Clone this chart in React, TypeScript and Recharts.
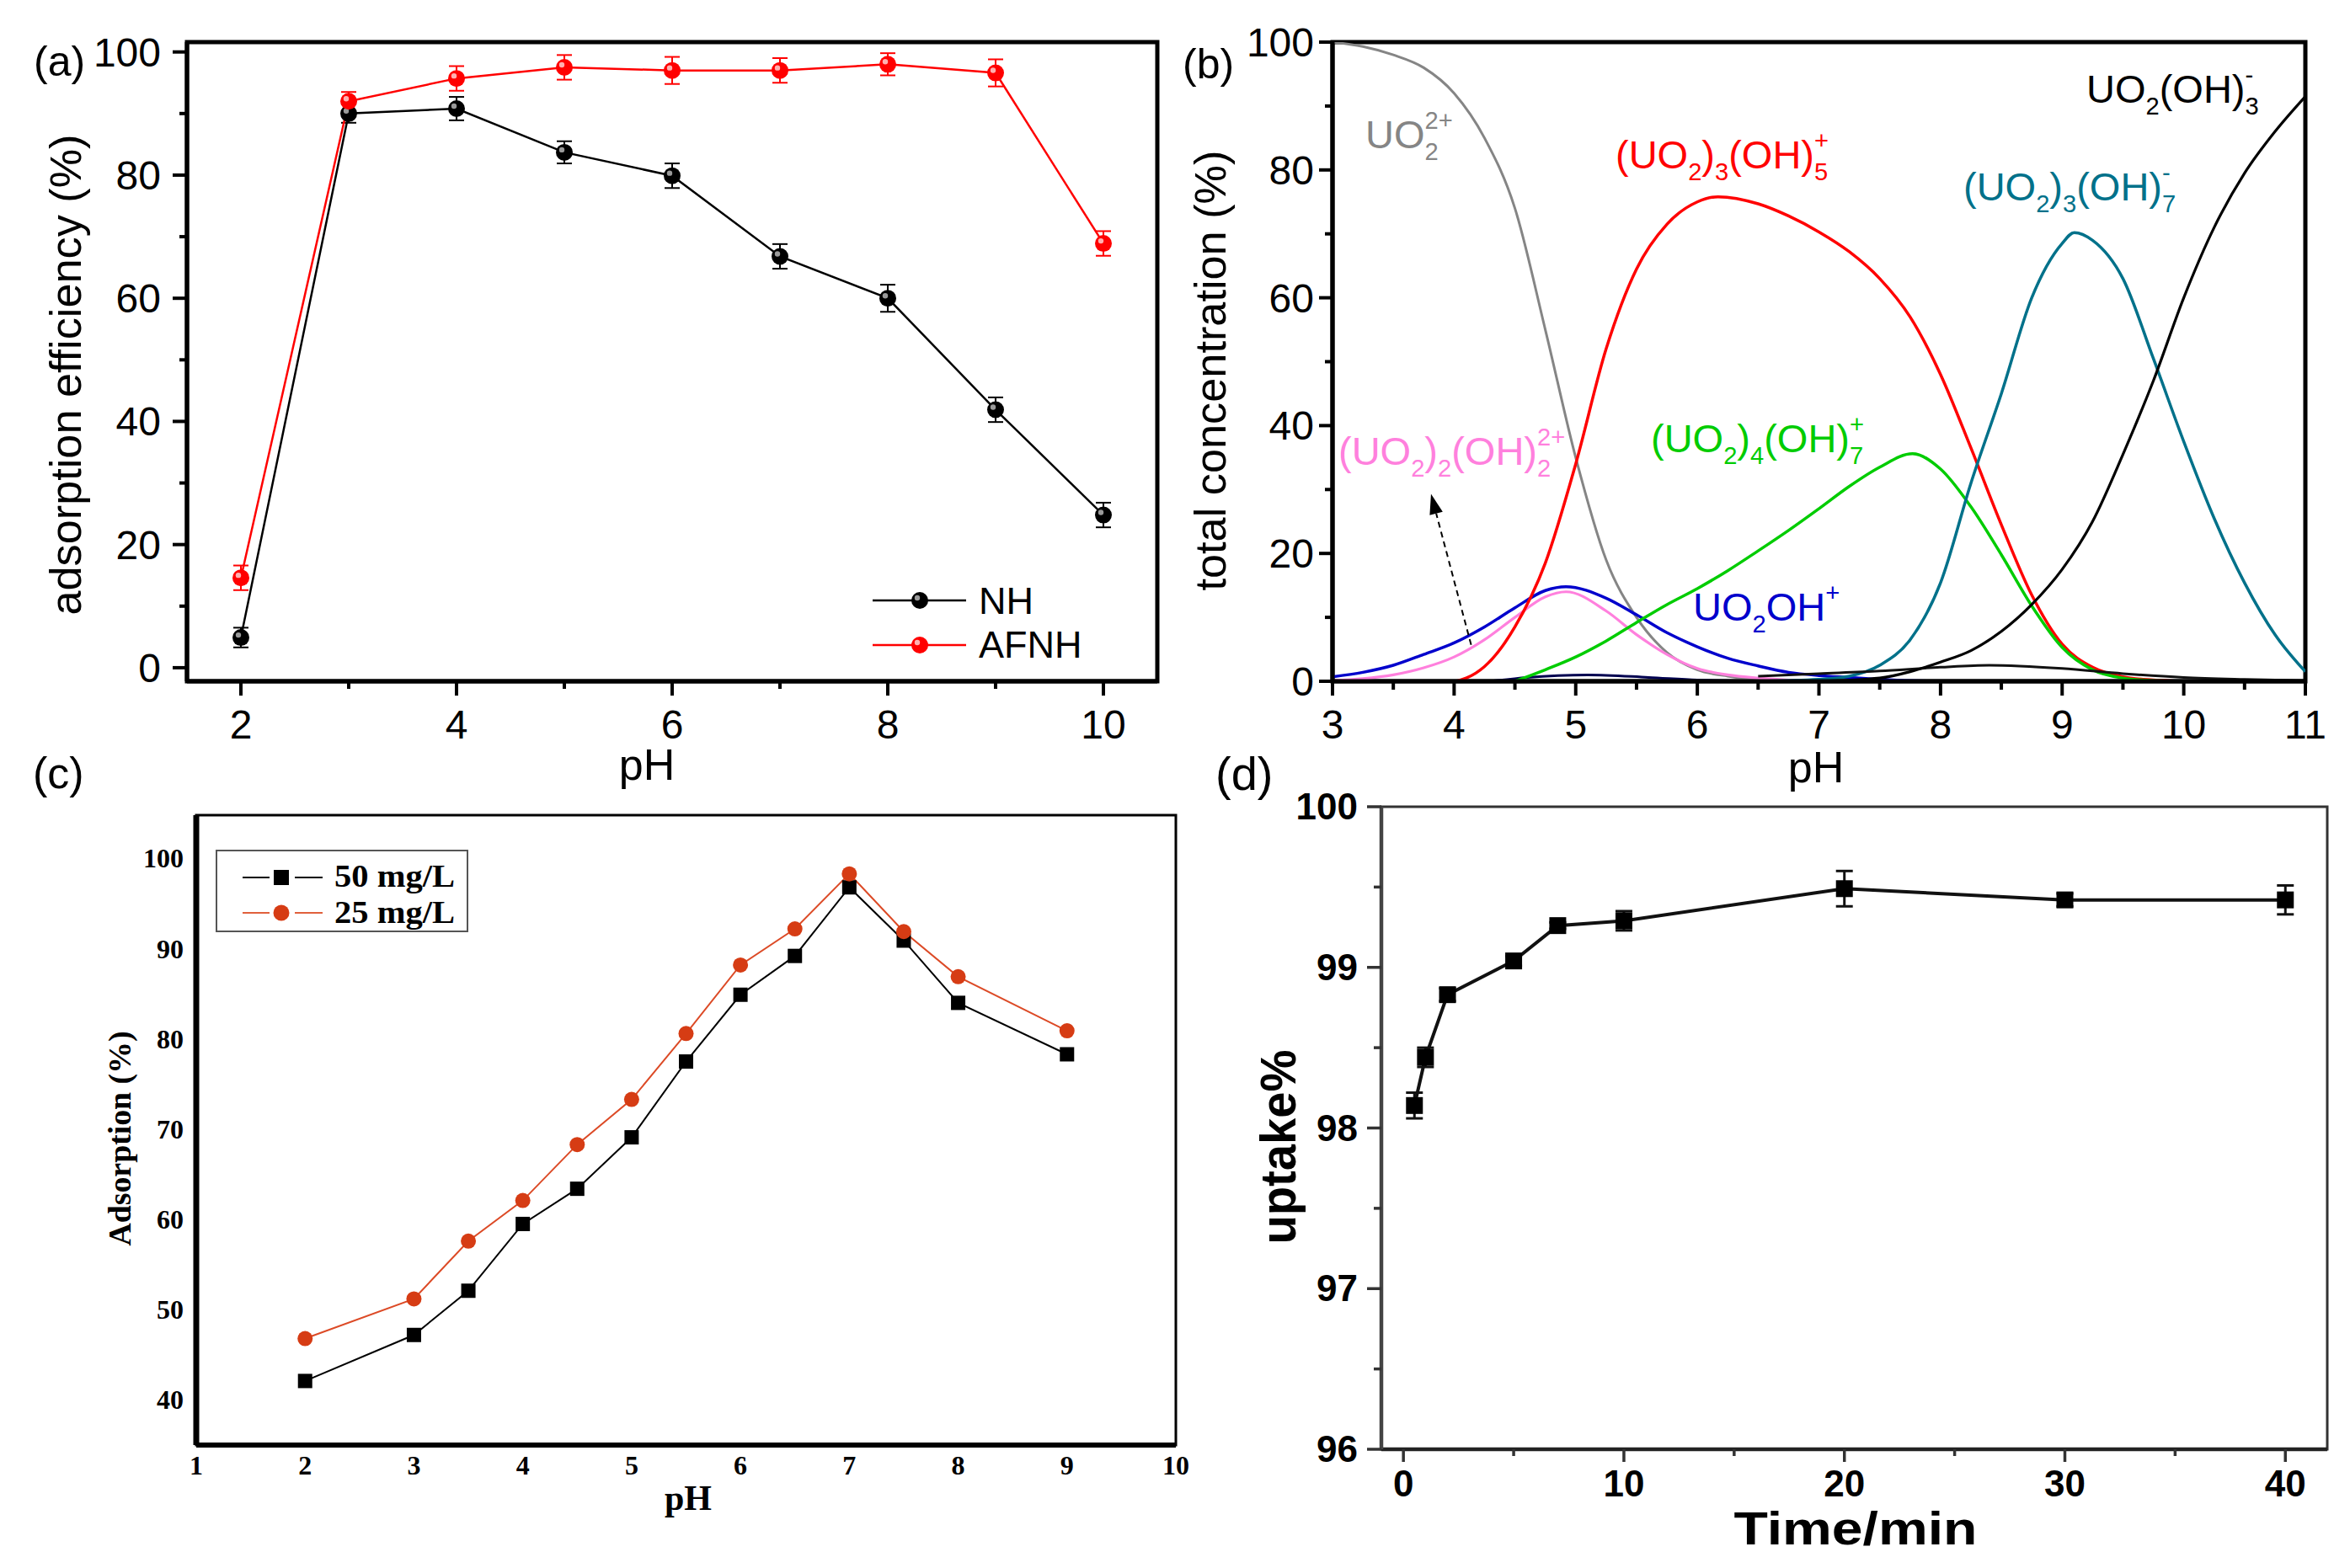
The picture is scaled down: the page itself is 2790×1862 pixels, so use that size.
import React from "react";
import { LineChart, Line, XAxis, YAxis, ErrorBar, ReferenceArea, ReferenceLine } from "recharts";

// page size and fonts
const W = 2790;
const H = 1862;
const SANS = "'Liberation Sans', Arial, Helvetica, sans-serif";
const SERIF = "'Liberation Serif', 'Times New Roman', serif";

// ---------------------------------------------------------------------------
// (a) adsorption efficiency vs pH
// ---------------------------------------------------------------------------
const PH_A = [2, 3, 4, 5, 6, 7, 8, 9, 10];
const NH = [4.9, 90, 90.8, 83.7, 79.9, 66.8, 60, 41.9, 24.8];
const NH_ERR = [1.6, 1.5, 1.9, 1.8, 2, 2, 2.2, 2, 2];
const AFNH = [14.6, 92, 95.7, 97.5, 97, 97, 98, 96.6, 68.9];
const AFNH_ERR = [2, 1.5, 2, 2, 2.2, 2, 1.8, 2.2, 2];

// ---------------------------------------------------------------------------
// (b) uranyl speciation, [pH, %] pairs
// ---------------------------------------------------------------------------
const UO2: [number, number][] = [
  [3, 100], [3.25, 99.3], [3.5, 98], [3.75, 96], [4, 92], [4.25, 85], [4.5, 74],
  [4.75, 55], [5, 35], [5.25, 19], [5.5, 10], [5.75, 4.5], [6, 1.8], [6.25, 0.8],
  [6.5, 0.3], [7, 0],
];
const UO2_2_OH_2: [number, number][] = [
  [3, 0.1], [3.25, 0.4], [3.5, 1], [3.75, 2.1], [4, 3.8], [4.25, 6.5], [4.5, 10],
  [4.75, 13.2], [4.92, 14], [5.25, 11], [5.5, 7.3], [5.75, 4.2], [6, 2], [6.25, 1],
  [6.5, 0.5], [6.75, 0.2], [7, 0.1], [7.5, 0],
];
const UO2OH: [number, number][] = [
  [3, 0.7], [3.25, 1.4], [3.5, 2.5], [3.75, 4.2], [4, 6], [4.25, 8.5], [4.5, 11.5],
  [4.75, 14.2], [4.92, 14.8], [5.25, 13], [5.5, 10.4], [5.75, 7.6], [6, 5.4],
  [6.25, 3.6], [6.5, 2.4], [6.75, 1.4], [7, 0.9], [7.25, 0.6], [7.5, 0.3], [8, 0],
  [11, 0],
];
const UO2_3_OH_5: [number, number][] = [
  [3, 0], [4, 0], [4.1, 0.5], [4.25, 2.3], [4.5, 8.5], [4.75, 18.5], [5, 34],
  [5.25, 52], [5.5, 64.5], [5.75, 71.5], [6, 75], [6.17, 75.8], [6.5, 74.7],
  [6.75, 72.8], [7, 70.3], [7.25, 67.2], [7.5, 63], [7.75, 57], [8, 48],
  [8.25, 36.5], [8.5, 24.5], [8.75, 13.5], [9, 5.8], [9.25, 2.2], [9.5, 0.7],
  [9.75, 0.2], [10, 0],
];
const UO2_4_OH_7: [number, number][] = [
  [4.5, 0], [4.75, 1.8], [5, 3.8], [5.25, 6.3], [5.5, 9.2], [5.75, 12], [6, 14.5],
  [6.25, 17.3], [6.5, 20.4], [6.75, 23.6], [7, 27], [7.25, 30.5], [7.5, 33.5],
  [7.77, 35.6], [8, 33.2], [8.25, 27.3], [8.5, 19.8], [8.75, 11.8], [9, 5.3],
  [9.25, 1.8], [9.5, 0.5], [9.75, 0.1], [10, 0],
];
const UO2_3_OH_7: [number, number][] = [
  [6.5, 0], [7, 0.3], [7.25, 0.8], [7.5, 2.5], [7.75, 6.5], [8, 15.4], [8.25, 31],
  [8.5, 45], [8.75, 60], [9, 68.5], [9.1, 70.2], [9.25, 69], [9.5, 63], [9.75, 50.5],
  [10, 37.5], [10.25, 25.5], [10.5, 15.4], [10.75, 7.3], [11, 1.5],
];
const UO2_OH_3: [number, number][] = [
  [7, 0], [7.5, 0.5], [7.75, 1.5], [8, 3], [8.25, 4.8], [8.5, 7.8], [8.75, 12],
  [9, 17.5], [9.25, 25], [9.5, 35.5], [9.75, 47], [10, 60], [10.25, 71],
  [10.5, 79.5], [10.75, 86], [11, 91.5],
];
const MINOR_HIGH: [number, number][] = [
  [6.5, 0.8], [7, 1.2], [7.5, 1.6], [8, 2.2], [8.4, 2.5], [9, 2], [9.5, 1.2],
  [10, 0.6], [10.5, 0.3], [11, 0.1],
];
const MINOR_LOW: [number, number][] = [
  [4.3, 0], [4.6, 0.6], [5.1, 1], [5.6, 0.6], [6, 0.2], [6.5, 0],
];

// ---------------------------------------------------------------------------
// (c) adsorption vs pH, two concentrations
// ---------------------------------------------------------------------------
const PH_C = [2, 3, 3.5, 4, 4.5, 5, 5.5, 6, 6.5, 7, 7.5, 8, 9];
const C50 = [42.1, 47.2, 52.1, 59.5, 63.4, 69.1, 77.5, 84.9, 89.2, 96.8, 90.9, 84.0, 78.3];
const C25 = [46.8, 51.2, 57.6, 62.1, 68.3, 73.3, 80.6, 88.2, 92.2, 98.3, 91.9, 86.9, 80.9];

// ---------------------------------------------------------------------------
// (d) uptake vs time
// ---------------------------------------------------------------------------
const TIME_D = [0.5, 1, 2, 5, 7, 10, 20, 30, 40];
const UPTAKE = [98.14, 98.44, 98.83, 99.04, 99.26, 99.29, 99.49, 99.42, 99.42];
const UPTAKE_ERR = [0.08, 0.06, 0.04, 0.03, 0.02, 0.06, 0.11, 0.04, 0.09];

// tables for the charts
const DATA_A = PH_A.map((ph, i) => ({ ph, nh: NH[i], nhErr: NH_ERR[i], afnh: AFNH[i], afnhErr: AFNH_ERR[i] }));
const DATA_C = PH_C.map((ph, i) => ({ ph, c50: C50[i], c25: C25[i] }));
const DATA_D = TIME_D.map((t, i) => ({ t, up: UPTAKE[i], err: UPTAKE_ERR[i] }));
const toXY = (pts: [number, number][]) => pts.map(([x, v]) => ({ x, v }));

// ---------------------------------------------------------------------------
// ticks: tickSize/tickMargin are 0, so x/y given here sit on the axis line
// ---------------------------------------------------------------------------
type TickCfg = {
  side: "bottom" | "left";
  isMajor: (v: number) => boolean;
  len: number;
  minorLen: number;
  stroke: string;
  sw: number;
  off: number; // bottom: label baseline below axis; left: gap to label end
  dy?: number; // left: baseline shift against tick
  font: string;
  size: number;
  weight?: number | string;
};

function makeTick(c: TickCfg) {
  return (p: any) => {
    const { x, y, payload } = p;
    const v = payload.value as number;
    const major = c.isMajor(v);
    const l = major ? c.len : c.minorLen;
    if (c.side === "bottom") {
      return (
        <g>
          {l > 0 && <line x1={x} x2={x} y1={y} y2={y + l} stroke={c.stroke} strokeWidth={c.sw} />}
          {major && (
            <text x={x} y={y + c.off} textAnchor="middle" fontFamily={c.font} fontSize={c.size}
              fontWeight={c.weight ?? "normal"} fill="#000">{v}</text>
          )}
        </g>
      );
    }
    return (
      <g>
        {l > 0 && <line x1={x - l} x2={x} y1={y} y2={y} stroke={c.stroke} strokeWidth={c.sw} />}
        {major && (
          <text x={x - c.off} y={y + (c.dy ?? 0)} textAnchor="end" fontFamily={c.font} fontSize={c.size}
            fontWeight={c.weight ?? "normal"} fill="#000">{v}</text>
        )}
      </g>
    );
  };
}

const range = (a: number, b: number, s: number) => {
  const out: number[] = [];
  for (let v = a; v <= b + 1e-9; v += s) out.push(Math.round(v * 100) / 100);
  return out;
};

// ---------------------------------------------------------------------------
// markers
// ---------------------------------------------------------------------------
const ballDot = (fill: string, hi: string, r: number) => (p: any) => {
  if (p.cx == null || p.cy == null) return <g key={`b${p.index}`} />;
  return (
    <g key={`b${p.index}`}>
      <circle cx={p.cx} cy={p.cy} r={r} fill={fill} />
      <circle cx={p.cx - r * 0.3} cy={p.cy - r * 0.3} r={r * 0.32} fill={hi} />
    </g>
  );
};
const squareDot = (fill: string, s: number) => (p: any) => {
  if (p.cx == null || p.cy == null) return <g key={`s${p.index}`} />;
  return <rect key={`s${p.index}`} x={p.cx - s / 2} y={p.cy - s / 2} width={s} height={s} fill={fill} />;
};
const roundDot = (fill: string, r: number) => (p: any) => {
  if (p.cx == null || p.cy == null) return <g key={`r${p.index}`} />;
  return <circle key={`r${p.index}`} cx={p.cx} cy={p.cy} r={r} fill={fill} />;
};

function ArrowShape(p: any) {
  const { x1, y1, x2, y2 } = p;
  if ([x1, y1, x2, y2].some((v) => typeof v !== "number" || isNaN(v))) return <g />;
  const ang = Math.atan2(y2 - y1, x2 - x1);
  const L = 24;
  const hw = 8;
  const bx = x2 - L * Math.cos(ang);
  const by = y2 - L * Math.sin(ang);
  const px = -Math.sin(ang) * hw;
  const py = Math.cos(ang) * hw;
  return (
    <g>
      <line x1={x1} y1={y1} x2={bx} y2={by} stroke="#000" strokeWidth={2} strokeDasharray="7 5" />
      <polygon points={`${x2},${y2} ${bx + px},${by + py} ${bx - px},${by - py}`} fill="#000" />
    </g>
  );
}

// ---------------------------------------------------------------------------
// panels
// ---------------------------------------------------------------------------
function PanelA() {
  const xDom: [number, number] = [1.5, 10.5];
  const yDom: [number, number] = [-2.2, 101.6];
  return (
    <div style={{ position: "absolute", left: 0, top: 0 }}>
      <LineChart width={1395} height={931} data={DATA_A} margin={{ top: 50, right: 21, bottom: 0, left: 0 }}>
        <XAxis dataKey="ph" type="number" domain={xDom} allowDataOverflow ticks={range(2, 10, 1)} interval={0}
          height={122} tickSize={0} tickMargin={0} tickLine={false} axisLine={{ stroke: "#000", strokeWidth: 5 }}
          tick={makeTick({ side: "bottom", isMajor: (v) => v % 2 === 0, len: 17, minorLen: 9, stroke: "#000", sw: 4,
            off: 68, font: SANS, size: 48 })} />
        <YAxis type="number" domain={yDom} allowDataOverflow ticks={range(0, 100, 10)} interval={0} width={222}
          tickSize={0} tickMargin={0} tickLine={false} axisLine={{ stroke: "#000", strokeWidth: 5 }}
          tick={makeTick({ side: "left", isMajor: (v) => v % 20 === 0, len: 17, minorLen: 9, stroke: "#000", sw: 4,
            off: 31, dy: 17, font: SANS, size: 48 })} />
        <ReferenceArea x1={xDom[0]} x2={xDom[1]} y1={yDom[0]} y2={yDom[1]} fill="none" stroke="#000"
          strokeWidth={5} ifOverflow="visible" />
        <Line dataKey="nh" stroke="#000" strokeWidth={2.5} dot={ballDot("#000", "#9a9a9a", 10)} activeDot={false}
          isAnimationActive={false}>
          <ErrorBar dataKey="nhErr" width={9} stroke="#000" strokeWidth={2} isAnimationActive={false} />
        </Line>
        <Line dataKey="afnh" stroke="#ff0000" strokeWidth={2.5} dot={ballDot("#ff0000", "#ffb0b0", 10)}
          activeDot={false} isAnimationActive={false}>
          <ErrorBar dataKey="afnhErr" width={9} stroke="#ff0000" strokeWidth={2} isAnimationActive={false} />
        </Line>
      </LineChart>
    </div>
  );
}

const SPECIES: { name: string; pts: [number, number][]; color: string; w: number }[] = [
  { name: "UO2 2+", pts: UO2, color: "#858585", w: 3 },
  { name: "(UO2)2(OH)2 2+", pts: UO2_2_OH_2, color: "#ff80dd", w: 3.2 },
  { name: "UO2OH+", pts: UO2OH, color: "#0000cc", w: 3.5 },
  { name: "minor low", pts: MINOR_LOW, color: "#000050", w: 3 },
  { name: "(UO2)3(OH)5+", pts: UO2_3_OH_5, color: "#ff0000", w: 3.5 },
  { name: "(UO2)4(OH)7+", pts: UO2_4_OH_7, color: "#00cc00", w: 3.5 },
  { name: "(UO2)3(OH)7-", pts: UO2_3_OH_7, color: "#00718a", w: 3.5 },
  { name: "minor high", pts: MINOR_HIGH, color: "#111111", w: 3 },
  { name: "UO2(OH)3-", pts: UO2_OH_3, color: "#000000", w: 3.2 },
];

function PanelB() {
  const xDom: [number, number] = [3, 11];
  const yDom: [number, number] = [0, 100];
  return (
    <div style={{ position: "absolute", left: 1395, top: 0 }}>
      <LineChart width={1395} height={931} margin={{ top: 50, right: 53, bottom: 0, left: 0 }}>
        <XAxis dataKey="x" type="number" domain={xDom} allowDataOverflow ticks={range(3, 11, 0.5)} interval={0}
          height={122} tickSize={0} tickMargin={0} tickLine={false} axisLine={{ stroke: "#000", strokeWidth: 5 }}
          tick={makeTick({ side: "bottom", isMajor: (v) => Number.isInteger(v), len: 17, minorLen: 10, stroke: "#000",
            sw: 4, off: 68, font: SANS, size: 48 })} />
        <YAxis type="number" domain={yDom} allowDataOverflow ticks={range(0, 100, 10)} interval={0} width={187}
          tickSize={0} tickMargin={0} tickLine={false} axisLine={{ stroke: "#000", strokeWidth: 5 }}
          tick={makeTick({ side: "left", isMajor: (v) => v % 20 === 0, len: 16, minorLen: 9, stroke: "#000", sw: 4,
            off: 22, dy: 17, font: SANS, size: 48 })} />
        {SPECIES.map((s) => (
          <Line key={s.name} data={toXY(s.pts)} dataKey="v" name={s.name} type="monotone" stroke={s.color}
            strokeWidth={s.w} dot={false} activeDot={false} isAnimationActive={false} />
        ))}
        <ReferenceLine segment={[{ x: 4.14, y: 5.7 }, { x: 3.81, y: 29.3 }]} shape={ArrowShape} ifOverflow="visible" />
        <ReferenceArea x1={xDom[0]} x2={xDom[1]} y1={yDom[0]} y2={yDom[1]} fill="none" stroke="#000"
          strokeWidth={5} ifOverflow="visible" />
      </LineChart>
    </div>
  );
}

function PanelC() {
  const xDom: [number, number] = [1, 10];
  const yDom: [number, number] = [35, 104.8];
  return (
    <div style={{ position: "absolute", left: 0, top: 931 }}>
      <LineChart width={1420} height={931} data={DATA_C} margin={{ top: 37, right: 24, bottom: 0, left: 0 }}>
        <XAxis dataKey="ph" type="number" domain={xDom} allowDataOverflow ticks={range(1, 10, 1)} interval={0}
          height={146} tickSize={0} tickMargin={0} tickLine={false} axisLine={{ stroke: "#000", strokeWidth: 6 }}
          tick={makeTick({ side: "bottom", isMajor: () => true, len: 0, minorLen: 0, stroke: "#000", sw: 1,
            off: 35, font: SERIF, size: 32, weight: "bold" })} />
        <YAxis type="number" domain={yDom} allowDataOverflow ticks={range(40, 100, 10)} interval={0} width={233}
          tickSize={0} tickMargin={0} tickLine={false} axisLine={{ stroke: "#000", strokeWidth: 7 }}
          tick={makeTick({ side: "left", isMajor: () => true, len: 0, minorLen: 0, stroke: "#000", sw: 1,
            off: 15, dy: 11, font: SERIF, size: 32, weight: "bold" })} />
        <ReferenceArea x1={xDom[0]} x2={xDom[1]} y1={yDom[0]} y2={yDom[1]} fill="none" stroke="#000"
          strokeWidth={3} ifOverflow="visible" />
        <Line dataKey="c50" stroke="#000" strokeWidth={2} dot={squareDot("#000", 17)} activeDot={false}
          isAnimationActive={false} />
        <Line dataKey="c25" stroke="#dc4a26" strokeWidth={2} dot={roundDot("#d63c14", 9)} activeDot={false}
          isAnimationActive={false} />
      </LineChart>
    </div>
  );
}

function PanelD() {
  const xDom: [number, number] = [-1, 41.9];
  const yDom: [number, number] = [96, 100];
  return (
    <div style={{ position: "absolute", left: 1420, top: 931 }}>
      <LineChart width={1370} height={931} data={DATA_D} margin={{ top: 27, right: 27, bottom: 0, left: 0 }}>
        <XAxis dataKey="t" type="number" domain={xDom} allowDataOverflow ticks={range(0, 40, 5)} interval={0}
          height={141} tickSize={0} tickMargin={0} tickLine={false} axisLine={{ stroke: "#222", strokeWidth: 4.5 }}
          tick={makeTick({ side: "bottom", isMajor: (v) => v % 10 === 0, len: 15, minorLen: 8, stroke: "#333", sw: 3.5,
            off: 56, font: SANS, size: 44, weight: "bold" })} />
        <YAxis type="number" domain={yDom} allowDataOverflow ticks={range(96, 100, 0.5)} interval={0} width={220}
          tickSize={0} tickMargin={0} tickLine={false} axisLine={{ stroke: "#444", strokeWidth: 4.5 }}
          tick={makeTick({ side: "left", isMajor: (v) => Number.isInteger(v), len: 17, minorLen: 9, stroke: "#333",
            sw: 3.5, off: 28, dy: 15, font: SANS, size: 44, weight: "bold" })} />
        <ReferenceArea x1={xDom[0]} x2={xDom[1]} y1={yDom[0]} y2={yDom[1]} fill="none" stroke="#333"
          strokeWidth={3} ifOverflow="visible" />
        <Line dataKey="up" stroke="#111" strokeWidth={4} dot={squareDot("#000", 20)} activeDot={false}
          isAnimationActive={false}>
          <ErrorBar dataKey="err" width={10} stroke="#111" strokeWidth={3} isAnimationActive={false} />
        </Line>
      </LineChart>
    </div>
  );
}

// ---------------------------------------------------------------------------
// chemical labels with stacked sub/superscripts
// ---------------------------------------------------------------------------
type Part = { t: string; k: "n" | "sub" | "sup" | "both"; s?: string };

function Chem({ x, y, color, parts, size = 47 }: { x: number; y: number; color: string; parts: Part[]; size?: number }) {
  const f = size * 0.62;
  const spans: React.ReactNode[] = [];
  parts.forEach((p, i) => {
    if (p.k === "n") {
      spans.push(<tspan key={i} y={y} fontSize={size}>{p.t}</tspan>);
    } else if (p.k === "sub") {
      spans.push(<tspan key={i} y={y + size * 0.3} fontSize={f}>{p.t}</tspan>);
    } else if (p.k === "sup") {
      spans.push(<tspan key={i} y={y - size * 0.5} fontSize={f}>{p.t}</tspan>);
    } else {
      spans.push(<tspan key={`${i}a`} y={y + size * 0.3} fontSize={f}>{p.t}</tspan>);
      spans.push(
        <tspan key={`${i}b`} y={y - size * 0.5} dx={-f * 0.556 * p.t.length} fontSize={f}>{p.s}</tspan>
      );
    }
  });
  return (
    <text x={x} y={y} fill={color} fontFamily={SANS}>{spans}</text>
  );
}

function Overlay() {
  const rot = (cx: number, cy: number) => `rotate(-90 ${cx} ${cy})`;
  return (
    <svg width={W} height={H} style={{ position: "absolute", left: 0, top: 0, pointerEvents: "none" }}>
      {/* panel letters */}
      <text x={40} y={90} fontFamily={SANS} fontSize={50}>(a)</text>
      <text x={1404} y={93} fontFamily={SANS} fontSize={50}>(b)</text>
      <text x={39} y={936} fontFamily={SANS} fontSize={52}>(c)</text>
      <text x={1443} y={938} fontFamily={SANS} fontSize={56}>(d)</text>

      {/* (a) titles + legend */}
      <text x={78} y={445} transform={rot(78, 445)} textAnchor="middle" dominantBaseline="central"
        fontFamily={SANS} fontSize={52} textLength={571} lengthAdjust="spacingAndGlyphs">adsorption efficiency (%)</text>
      <text x={768} y={926} textAnchor="middle" fontFamily={SANS} fontSize={52}>pH</text>
      <line x1={1036} x2={1147} y1={713} y2={713} stroke="#000" strokeWidth={2.5} />
      <circle cx={1092} cy={713} r={10} fill="#000" />
      <circle cx={1089} cy={710} r={3.2} fill="#9a9a9a" />
      <text x={1162} y={729} fontFamily={SANS} fontSize={45}>NH</text>
      <line x1={1036} x2={1147} y1={766} y2={766} stroke="#ff0000" strokeWidth={2.5} />
      <circle cx={1092} cy={766} r={10} fill="#ff0000" />
      <circle cx={1089} cy={763} r={3.2} fill="#ffb0b0" />
      <text x={1162} y={781} fontFamily={SANS} fontSize={45}>AFNH</text>

      {/* (b) titles + species labels */}
      <text x={1437} y={440} transform={rot(1437, 440)} textAnchor="middle" dominantBaseline="central"
        fontFamily={SANS} fontSize={52} textLength={523} lengthAdjust="spacingAndGlyphs">total concentration (%)</text>
      <text x={2156} y={929} textAnchor="middle" fontFamily={SANS} fontSize={52}>pH</text>
      <Chem x={1621} y={176} color="#858585"
        parts={[{ t: "UO", k: "n" }, { t: "2", k: "both", s: "2+" }]} />
      <Chem x={1918} y={200} color="#ff0000"
        parts={[{ t: "(UO", k: "n" }, { t: "2", k: "sub" }, { t: ")", k: "n" }, { t: "3", k: "sub" },
          { t: "(OH)", k: "n" }, { t: "5", k: "both", s: "+" }]} />
      <Chem x={2477} y={122} color="#000000"
        parts={[{ t: "UO", k: "n" }, { t: "2", k: "sub" }, { t: "(OH)", k: "n" }, { t: "3", k: "both", s: "-" }]} />
      <Chem x={2331} y={238} color="#00718a"
        parts={[{ t: "(UO", k: "n" }, { t: "2", k: "sub" }, { t: ")", k: "n" }, { t: "3", k: "sub" },
          { t: "(OH)", k: "n" }, { t: "7", k: "both", s: "-" }]} />
      <Chem x={1960} y={537} color="#00cc00"
        parts={[{ t: "(UO", k: "n" }, { t: "2", k: "sub" }, { t: ")", k: "n" }, { t: "4", k: "sub" },
          { t: "(OH)", k: "n" }, { t: "7", k: "both", s: "+" }]} />
      <Chem x={1589} y={552} color="#ff80dd"
        parts={[{ t: "(UO", k: "n" }, { t: "2", k: "sub" }, { t: ")", k: "n" }, { t: "2", k: "sub" },
          { t: "(OH)", k: "n" }, { t: "2", k: "both", s: "2+" }]} />
      <Chem x={2010} y={737} color="#0000cc"
        parts={[{ t: "UO", k: "n" }, { t: "2", k: "sub" }, { t: "OH", k: "n" }, { t: "+", k: "sup" }]} />

      {/* (c) titles + legend */}
      <text x={142} y={1352} transform={rot(142, 1352)} textAnchor="middle" dominantBaseline="central"
        fontFamily={SERIF} fontWeight="bold" fontSize={37} textLength={255} lengthAdjust="spacingAndGlyphs">Adsorption (%)</text>
      <text x={817} y={1793} textAnchor="middle" fontFamily={SERIF} fontWeight="bold" fontSize={42}>pH</text>
      <rect x={257} y={1010} width={298} height={96} fill="#fff" stroke="#555" strokeWidth={2} />
      <line x1={288} x2={320} y1={1042} y2={1042} stroke="#000" strokeWidth={2} />
      <line x1={350} x2={383} y1={1042} y2={1042} stroke="#000" strokeWidth={2} />
      <rect x={325} y={1033} width={18} height={18} fill="#000" />
      <text x={397} y={1053} fontFamily={SERIF} fontWeight="bold" fontSize={37} textLength={143}
        lengthAdjust="spacingAndGlyphs">50 mg/L</text>
      <line x1={288} x2={320} y1={1084} y2={1084} stroke="#e0603c" strokeWidth={2} />
      <line x1={350} x2={383} y1={1084} y2={1084} stroke="#e0603c" strokeWidth={2} />
      <circle cx={334} cy={1084} r={9.5} fill="#d63c14" />
      <text x={397} y={1096} fontFamily={SERIF} fontWeight="bold" fontSize={37} textLength={143}
        lengthAdjust="spacingAndGlyphs">25 mg/L</text>

      {/* (d) titles */}
      <text x={1517} y={1362} transform={rot(1517, 1362)} textAnchor="middle" dominantBaseline="central"
        fontFamily={SANS} fontWeight="bold" fontSize={60} textLength={231} lengthAdjust="spacingAndGlyphs">uptake%</text>
      <text x={2203} y={1834} textAnchor="middle" fontFamily={SANS} fontWeight="bold" fontSize={56}
        textLength={289} lengthAdjust="spacingAndGlyphs">Time/min</text>
    </svg>
  );
}

export default function App() {
  return (
    <div style={{ position: "absolute", left: 0, top: 0, width: W, height: H, background: "#fff", overflow: "hidden" }}>
      <PanelA />
      <PanelB />
      <PanelC />
      <PanelD />
      <Overlay />
    </div>
  );
}
